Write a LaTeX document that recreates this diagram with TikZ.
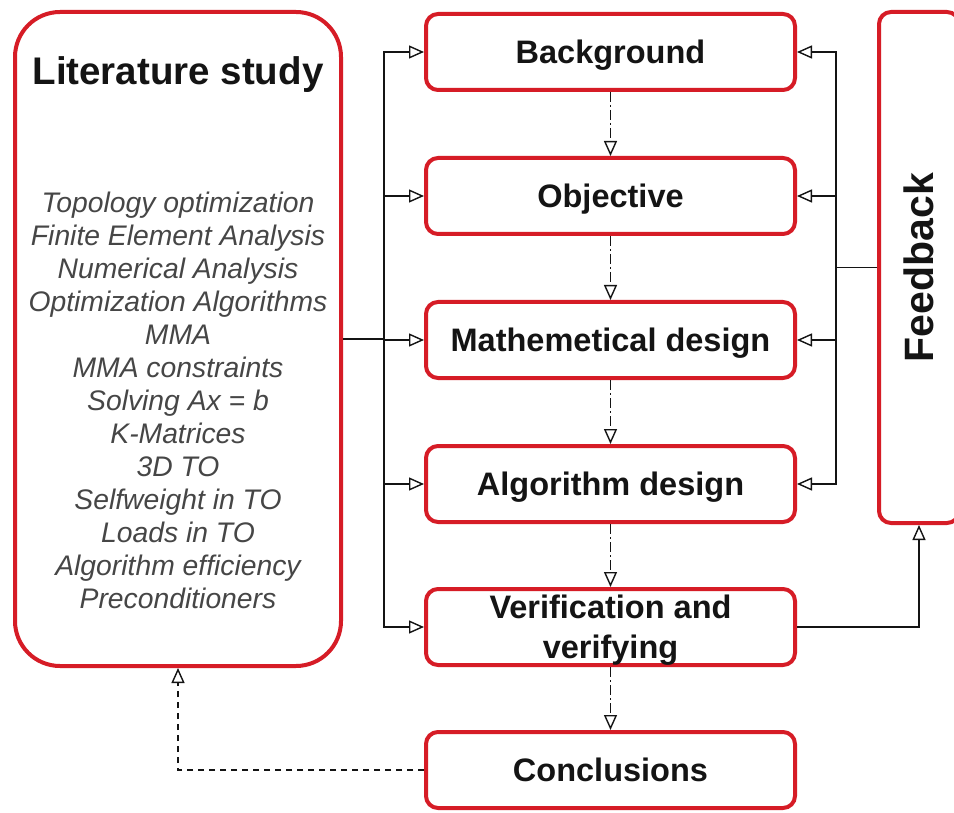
\documentclass[tikz,border=0pt]{standalone}
\usepackage{fontspec}
\setmainfont{Liberation Sans}
\usetikzlibrary{arrows.meta}
\definecolor{boxred}{RGB}{214,28,38}
\definecolor{listgrey}{RGB}{70,70,70}
\definecolor{ink}{RGB}{20,20,20}
\tikzset{
  stage/.style={draw=boxred, line width=4pt, rounded corners=12pt, fill=white,
    minimum width=369pt, minimum height=76pt, align=center, text=ink,
    font=\fontsize{32.5}{40}\selectfont\bfseries, inner sep=0pt},
  oneline/.style={text height=23pt, text depth=0pt},
  link/.style={draw=ink, line width=1.4pt},
  tip/.style={-{Triangle[open, length=15pt, width=13pt, line width=1.4pt]}},
  flow/.style={link, tip, dash pattern=on 10pt off 3pt on 2pt off 3pt},
  back/.style={link, tip, dash pattern=on 6pt off 5pt},
  feed/.style={link, tip}
}
\begin{document}
\begin{tikzpicture}[x=1pt, y=-1pt]
\clip (0,0) rectangle (954,813);
\fill[white] (0,0) rectangle (954,813);

% literature block with its title and list of topics
\node[draw=boxred, line width=4pt, rounded corners=45pt, minimum width=326pt,
      minimum height=654pt, inner sep=0pt] (lit) at (178,339) {};
\node[font=\fontsize{38.5}{44}\selectfont\bfseries, text=ink, text height=27pt, text depth=0pt] (littitle) at (178,71) {Literature study};
\node[font=\fontsize{28.3}{33}\selectfont\itshape, text=listgrey, align=center] (litlist) at (178,400)
  {Topology optimization\\Finite Element Analysis\\Numerical Analysis\\Optimization Algorithms\\MMA\\MMA constraints\\Solving Ax = b\\K-Matrices\\3D TO\\Selfweight in TO\\Loads in TO\\Algorithm efficiency\\Preconditioners};

% project stages
\node[stage, oneline] (bg) at (610.5,52) {Background};
\node[stage, oneline] (ob) at (610.5,196) {Objective};
\node[stage, oneline] (md) at (610.5,340) {Mathemetical design};
\node[stage, oneline] (ad) at (610.5,484) {Algorithm design};
\node[stage] (vv) at (610.5,627) {};
\node[font=\fontsize{32.5}{40}\selectfont\bfseries, text=ink, align=center] (vvtext) at (610.5,630) {Verification and\\verifying};
\node[stage, oneline] (co) at (610.5,770) {Conclusions};

% feedback column
\node[draw=boxred, line width=4pt, rounded corners=12pt, fill=white,
      minimum width=80pt, minimum height=511pt, inner sep=0pt, text=ink,
      font=\fontsize{41}{46}\selectfont\bfseries] (fb) at (919,267.5) {\rotatebox{90}{Feedback}};

% bus lines
\coordinate (busL) at (384,0);
\coordinate (busR) at (836,0);

% literature feeds every stage up to verification
\draw[link] (lit.east) -- (lit.east -| busL);
\foreach \s in {bg,ob,md,ad,vv}
  \draw[feed] (lit.east -| busL) |- (\s.west);

% feedback returns to the first four stages
\draw[link] (fb.west) -- (fb.west -| busR);
\foreach \s in {bg,ob,md,ad}
  \draw[feed] (fb.west -| busR) |- (\s.east);

% verification reports into feedback
\draw[feed] (vv.east) -| (fb.south);

% sequence of stages
\draw[flow] (bg.south) -- (ob.north);
\draw[flow] (ob.south) -- (md.north);
\draw[flow] (md.south) -- (ad.north);
\draw[flow] (ad.south) -- (vv.north);
\draw[flow] (vv.south) -- (co.north);

% conclusions lead back to the literature
\draw[back] (co.west) -| (lit.south);
\end{tikzpicture}
\end{document}
